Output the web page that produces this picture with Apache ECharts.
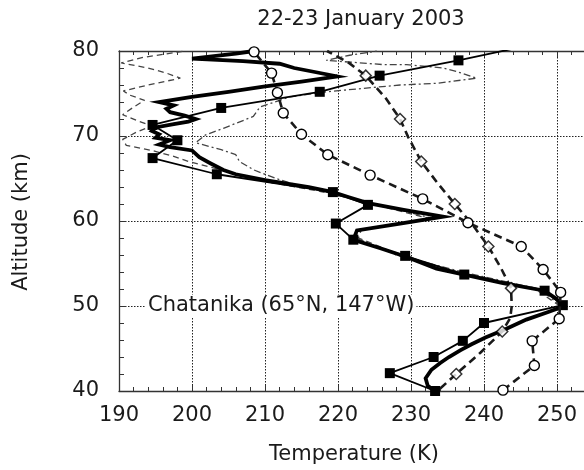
<!DOCTYPE html>
<html>
<head>
<meta charset="utf-8">
<script src="https://cdn.jsdelivr.net/npm/echarts@6/dist/echarts.min.js"></script>
<style>
  html, body { margin: 0; padding: 0; background: #fff; }
  #chart { width: 584px; height: 470px; }
</style>
</head>
<body>
<div id="chart"></div>
<script>
// Axis ranges (K and km)
const tempRange = [190, 260];
const altRange = [40, 80];

// High-resolution lidar temperature profile (thick solid)
const lidarAlt  = [40.0, 40.6, 41.5, 42.5, 43.3, 44.0, 44.8, 45.5, 46.3, 47.3, 48.4, 49.3, 50.0, 50.9, 51.8, 52.7, 53.7, 54.4, 55.8, 56.8, 57.8, 58.9, 59.7, 60.5, 61.3, 62.1, 62.8, 63.4, 64.0, 64.8, 65.5, 66.0, 66.8, 67.5, 68.3, 68.7, 69.0, 69.5, 69.8, 70.2, 70.6, 71.0, 71.4, 71.7, 72.0, 72.4, 72.8, 73.2, 73.6, 74.0, 74.6, 75.2, 75.8, 76.4, 77.0, 77.5, 78.0, 78.5, 78.8, 79.1, 79.4, 79.7, 80.0];
const lidarTemp = [233.3, 232.3, 232.0, 232.8, 234.0, 235.2, 236.8, 238.3, 240.2, 243.0, 245.8, 248.8, 251.0, 249.8, 248.3, 242.6, 237.3, 233.5, 229.3, 225.8, 222.1, 222.6, 228.5, 234.4, 229.0, 224.1, 221.5, 219.3, 216.0, 210.0, 206.0, 204.3, 202.5, 201.0, 200.0, 197.0, 195.5, 197.0, 195.0, 195.5, 194.5, 195.0, 197.5, 199.5, 200.5, 199.0, 197.0, 196.5, 197.5, 195.5, 200.0, 205.0, 209.8, 215.0, 219.9, 217.0, 214.0, 212.0, 207.0, 200.0, 203.0, 206.0, 208.5];

// 2-km binned profile (thin solid, filled squares)
const binAlt  = [40.0, 42.1, 44.0, 45.9, 48.0, 50.1, 51.8, 53.7, 55.9, 57.8, 59.7, 61.9, 63.4, 65.5, 67.4, 69.5, 71.3, 73.3, 75.2, 77.1, 78.9, 80.8];
const binTemp = [233.3, 227.1, 233.1, 237.1, 240.0, 250.8, 248.3, 237.3, 229.2, 222.1, 219.7, 224.1, 219.3, 203.4, 194.6, 198.0, 194.6, 204.0, 217.5, 225.7, 236.5, 246.9];

// Model profile with open circles (thick dashed)
const circAlt  = [40.1, 43.0, 45.9, 48.5, 51.6, 54.3, 57.0, 59.8, 62.6, 65.4, 67.8, 70.2, 72.7, 75.1, 77.4, 79.9];
const circTemp = [242.6, 246.9, 246.6, 250.3, 250.5, 248.1, 245.1, 237.8, 231.6, 224.4, 218.6, 215.0, 212.5, 211.7, 210.9, 208.5];

// Model profile with open diamonds (thick dashed): full curve and marked nodes
const diamAlt  = [40.3, 42.0, 44.5, 47.0, 48.6, 50.0, 52.1, 54.5, 57.0, 59.5, 62.0, 64.5, 67.0, 69.9, 72.0, 74.5, 77.1, 78.6, 80.0];
const diamTemp = [234.0, 236.2, 239.5, 242.5, 243.6, 243.8, 243.7, 242.3, 240.6, 238.5, 236.0, 233.6, 231.4, 229.6, 228.5, 226.5, 223.8, 221.5, 218.5];
const diamMarkAlt  = [42.0, 47.0, 52.1, 57.0, 62.0, 67.0, 72.0, 77.1];
const diamMarkTemp = [236.2, 242.5, 243.7, 240.6, 236.0, 231.4, 228.5, 223.8];

// Individual hourly profiles (thin dashed)
const hourAAlt  = [50.0, 52.0, 54.0, 56.0, 58.0, 59.0, 60.3, 61.5, 62.5, 63.5, 64.5, 65.2, 66.0, 67.0, 67.6, 68.3, 68.9, 69.6, 70.5, 71.2, 71.8, 72.5, 73.4, 74.2, 74.8, 75.3, 76.0, 76.8, 77.4, 78.0, 78.6, 79.2, 79.6, 80.0];
const hourATemp = [250.4, 247.0, 236.5, 228.5, 222.8, 223.2, 232.5, 227.0, 222.5, 217.5, 211.0, 207.5, 204.0, 199.5, 197.5, 194.5, 191.0, 190.5, 192.5, 194.5, 192.5, 190.5, 192.0, 193.5, 191.5, 190.6, 194.0, 198.4, 196.5, 194.0, 190.3, 193.0, 196.0, 199.0];
const hourBAlt  = [50.0, 52.0, 54.0, 56.0, 58.0, 59.0, 60.3, 61.5, 62.5, 63.5, 64.2, 65.0, 66.0, 67.0, 67.8, 68.4, 69.2, 70.1, 70.9, 72.3, 73.4, 74.6, 75.2, 76.0, 76.2, 76.8, 77.6, 78.0, 78.4, 78.4, 78.9, 79.5, 80.0];
const hourBTemp = [250.6, 247.6, 237.0, 228.0, 222.5, 223.0, 233.0, 227.5, 222.5, 218.0, 214.5, 211.5, 208.5, 206.5, 206.0, 204.0, 200.5, 201.8, 204.3, 208.4, 209.3, 213.4, 218.4, 228.5, 233.5, 239.0, 236.2, 234.4, 229.4, 226.2, 218.4, 221.6, 225.3];

const pairs = (xs, ys) => xs.map((x, i) => [x, ys[i]]);

const FONT = '"DejaVu Sans", sans-serif';
const INK = '#1a1a1a';

const chart = echarts.init(document.getElementById('chart'), null, { renderer: 'canvas' });

const xBase = {
  type: 'value', min: tempRange[0], max: tempRange[1], interval: 10,
  axisLine: { show: true, lineStyle: { color: '#333', width: 1.3 } },
  axisTick: { show: true, inside: true, length: 6, lineStyle: { color: '#333', width: 1 } },
  minorTick: { show: true, splitNumber: 5, length: 4, lineStyle: { color: '#333', width: 1 } }
};

chart.setOption({
  animation: false,
  backgroundColor: '#fff',
  grid: { left: 119, top: 51, width: 511, height: 340, containLabel: false, outerBoundsMode: 'none' },
  xAxis: [
    Object.assign({}, xBase, {
      position: 'bottom',
      axisLabel: { fontFamily: FONT, fontSize: 21, color: INK, margin: 14 },
      splitLine: { show: true, lineStyle: { color: '#222', width: 1, type: [1.5, 1.5] } }
    }),
    Object.assign({}, xBase, {
      position: 'top',
      axisLabel: { show: false },
      splitLine: { show: false }
    })
  ],
  yAxis: {
    type: 'value', min: altRange[0], max: altRange[1], interval: 10,
    axisLine: { show: true, lineStyle: { color: '#333', width: 1.3 } },
    axisTick: { show: true, inside: true, length: 7, lineStyle: { color: '#333', width: 1 } },
    minorTick: { show: true, splitNumber: 5, length: 5, lineStyle: { color: '#333', width: 1 } },
    axisLabel: { fontFamily: FONT, fontSize: 21, color: INK, margin: 20 },
    splitLine: { show: true, lineStyle: { color: '#222', width: 1, type: [1.5, 1.5] } }
  },
  series: [
    {
      name: 'hourA', type: 'line', data: pairs(hourATemp, hourAAlt),
      showSymbol: false, clip: true,
      lineStyle: { color: '#444', width: 1.3, type: [6, 4] }, z: 2
    },
    {
      name: 'hourB', type: 'line', data: pairs(hourBTemp, hourBAlt),
      showSymbol: false, clip: true,
      lineStyle: { color: '#444', width: 1.3, type: [7, 3, 2, 3] }, z: 2
    },
    {
      name: 'circles', type: 'line', data: pairs(circTemp, circAlt),
      symbol: 'circle', symbolSize: 10, clip: false,
      lineStyle: { color: INK, width: 2.6, type: [8, 5] },
      itemStyle: { color: '#fff', borderColor: '#000', borderWidth: 1.4 }, z: 6
    },
    {
      name: 'diamondsLine', type: 'line', data: pairs(diamTemp, diamAlt),
      showSymbol: false, clip: true,
      lineStyle: { color: INK, width: 2.6, type: [8, 5] }, z: 3
    },
    {
      name: 'lidar', type: 'line', data: pairs(lidarTemp, lidarAlt),
      showSymbol: false, clip: true,
      lineStyle: { color: '#000', width: 3.8, join: 'miter' }, z: 4
    },
    {
      name: 'binned', type: 'line', data: pairs(binTemp, binAlt),
      symbol: 'rect', symbolSize: 10, clip: true,
      lineStyle: { color: '#000', width: 1.8 },
      itemStyle: { color: '#000' }, z: 5
    },
    {
      name: 'diamonds', type: 'scatter', data: pairs(diamMarkTemp, diamMarkAlt),
      symbol: 'diamond', symbolSize: 11,
      itemStyle: { color: '#fff', borderColor: '#000', borderWidth: 1.5 }, z: 6
    }
  ],
  graphic: [
    {
      type: 'text', x: 361, y: 20, z: 10,
      style: { text: '22-23 January 2003', font: '21px ' + FONT, fill: INK, align: 'center', verticalAlign: 'middle' }
    },
    {
      type: 'text', x: 354, y: 455, z: 10,
      style: { text: 'Temperature (K)', font: '21px ' + FONT, fill: INK, align: 'center', verticalAlign: 'middle' }
    },
    {
      type: 'text', x: 22, y: 222, rotation: Math.PI / 2, z: 10,
      style: { text: 'Altitude (km)', font: '21px ' + FONT, fill: INK, align: 'center', verticalAlign: 'middle' }
    },
    {
      type: 'text', x: 146, y: 306, z: 10,
      style: { text: 'Chatanika (65°N, 147°W)', font: '21px ' + FONT, fill: INK, align: 'left', verticalAlign: 'middle', backgroundColor: '#fff', padding: [1, 2] }
    }
  ]
});
</script>
</body>
</html>
